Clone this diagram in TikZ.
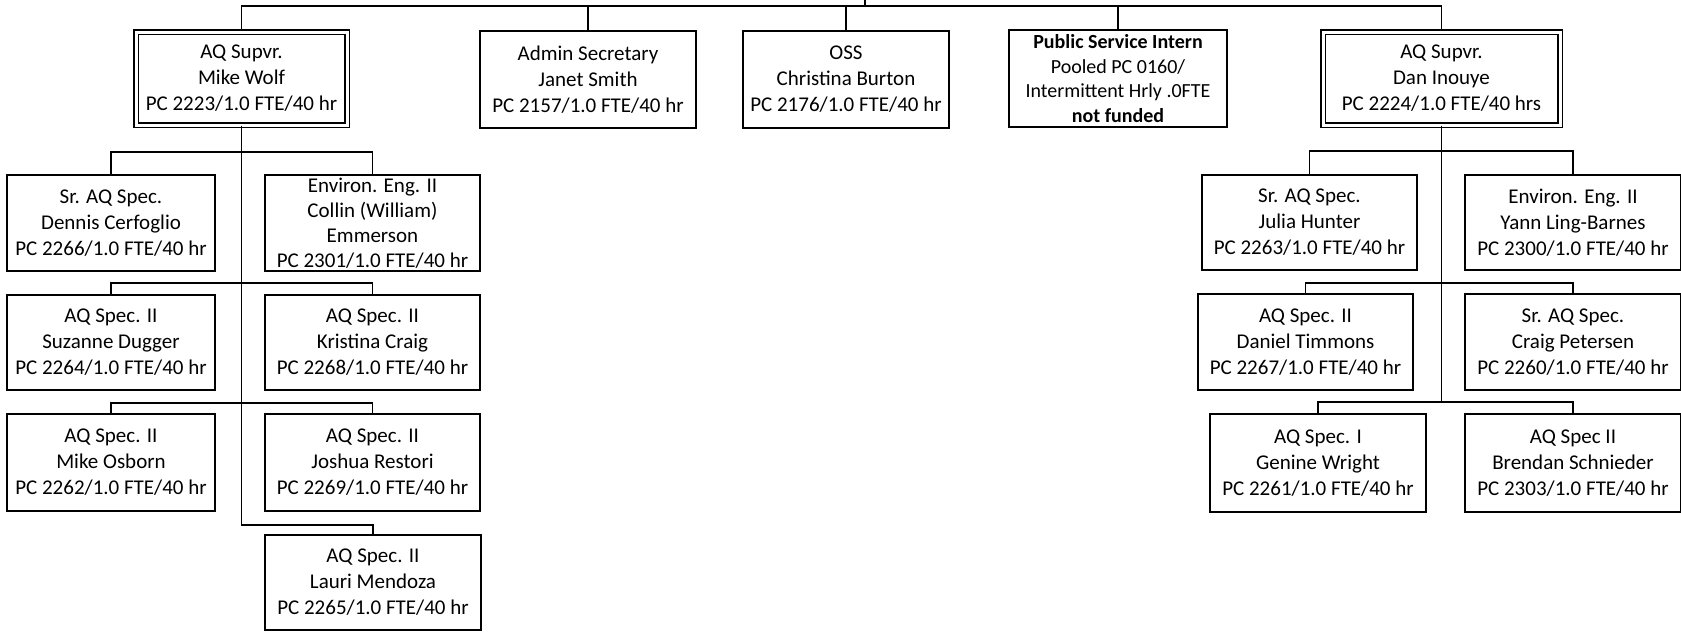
\documentclass[tikz,border=0pt]{standalone}
\usepackage{fontspec}
\setmainfont{Carlito}
\begin{document}
\begin{tikzpicture}[x=1pt,y=-1pt,
  box/.style={draw, rectangle, line width=1.5pt, inner sep=0pt, align=center,
    font=\fontsize{21}{26}\selectfont},
  dbox/.style={box, line width=1.3pt, double=white, double distance=3pt},
  conn/.style={line width=1.5pt}]
\useasboundingbox (0,0) rectangle (1681,632);

% top row
\node[dbox, minimum width=211pt, minimum height=93pt] (wolf) at (241.5,78.5)
  {AQ Supvr.\\Mike Wolf\\PC 2223/1.0 FTE/40 hr};
\node[box, minimum width=216pt, minimum height=97pt] (admin) at (588,79.5)
  {Admin Secretary\\Janet Smith\\PC 2157/1.0 FTE/40 hr};
\node[box, minimum width=206pt, minimum height=97pt] (oss) at (846,79.5)
  {OSS\\Christina Burton\\PC 2176/1.0 FTE/40 hr};
\node[box, minimum width=218pt, minimum height=97pt, font=\fontsize{20}{24.7}\selectfont] (psi) at (1118,78.5)
  {\textbf{Public Service Intern}\\Pooled PC 0160/\\Intermittent Hrly .0FTE\\\textbf{not funded}};
\node[dbox, minimum width=237pt, minimum height=93pt] (dan) at (1441.5,78.5)
  {AQ Supvr.\\Dan Inouye\\PC 2224/1.0 FTE/40 hrs};

% left subtree
\node[box, minimum width=208pt, minimum height=96pt] (dennis) at (111,223)
  {Sr. AQ Spec.\\Dennis Cerfoglio\\PC 2266/1.0 FTE/40 hr};
\node[box, minimum width=215pt, minimum height=96pt, font=\fontsize{21}{25}\selectfont] (collin) at (372.5,223)
  {Environ. Eng. II\\Collin (William)\\Emmerson\\PC 2301/1.0 FTE/40 hr};
\node[box, minimum width=208pt, minimum height=95pt] (suzanne) at (111,342.5)
  {AQ Spec. II\\Suzanne Dugger\\PC 2264/1.0 FTE/40 hr};
\node[box, minimum width=215pt, minimum height=95pt] (kristina) at (372.5,342.5)
  {AQ Spec. II\\Kristina Craig\\PC 2268/1.0 FTE/40 hr};
\node[box, minimum width=208pt, minimum height=97pt] (osborn) at (111,462.5)
  {AQ Spec. II\\Mike Osborn\\PC 2262/1.0 FTE/40 hr};
\node[box, minimum width=215pt, minimum height=97pt] (joshua) at (372.5,462.5)
  {AQ Spec. II\\Joshua Restori\\PC 2269/1.0 FTE/40 hr};
\node[box, minimum width=216pt, minimum height=95pt] (lauri) at (373,582.5)
  {AQ Spec. II\\Lauri Mendoza\\PC 2265/1.0 FTE/40 hr};

% right subtree
\node[box, minimum width=215pt, minimum height=95pt] (julia) at (1309.5,222.5)
  {Sr. AQ Spec.\\Julia Hunter\\PC 2263/1.0 FTE/40 hr};
\node[box, minimum width=216pt, minimum height=95pt] (yann) at (1573,222.5)
  {Environ. Eng. II\\Yann Ling-Barnes\\PC 2300/1.0 FTE/40 hr};
\node[box, minimum width=215pt, minimum height=96pt] (daniel) at (1305.5,342)
  {AQ Spec. II\\Daniel Timmons\\PC 2267/1.0 FTE/40 hr};
\node[box, minimum width=216pt, minimum height=96pt] (craig) at (1573,342)
  {Sr. AQ Spec.\\Craig Petersen\\PC 2260/1.0 FTE/40 hr};
\node[box, minimum width=216pt, minimum height=98pt] (genine) at (1318,463)
  {AQ Spec. I\\Genine Wright\\PC 2261/1.0 FTE/40 hr};
\node[box, minimum width=216pt, minimum height=98pt] (brendan) at (1573,463)
  {AQ Spec II\\Brendan Schnieder\\PC 2303/1.0 FTE/40 hr};

% bus coordinates
\coordinate (bus) at (865,6);
\coordinate (up) at (865,0);
\coordinate (lA) at (241.5,152);
\coordinate (lB) at (241.5,283);
\coordinate (lC) at (241.5,403);
\coordinate (lD) at (241.5,525);
\coordinate (rA) at (1441.5,151);
\coordinate (rB) at (1441.5,283);
\coordinate (rC) at (1441.5,402);

% top connectors
\draw[conn] (wolf.north) -- (wolf.north |- bus) -- (dan.north |- bus) -- (dan.north);
\draw[conn] (up) -- (bus);
\draw[conn] (admin.north) -- (admin.north |- bus);
\draw[conn] (oss.north) -- (oss.north |- bus);
\draw[conn] (psi.north) -- (psi.north |- bus);

% left tree connectors
\draw[conn] (wolf.south) -- (lD) -| (lauri.north);
\draw[conn] (dennis.north) |- (lA) -| (collin.north);
\draw[conn] (suzanne.north) |- (lB) -| (kristina.north);
\draw[conn] (osborn.north) |- (lC) -| (joshua.north);

% right tree connectors
\draw[conn] (dan.south) -- (rC);
\draw[conn] (julia.north) |- (rA) -| (yann.north);
\draw[conn] (daniel.north) |- (rB) -| (craig.north);
\draw[conn] (genine.north) |- (rC) -| (brendan.north);
\end{tikzpicture}
\end{document}
